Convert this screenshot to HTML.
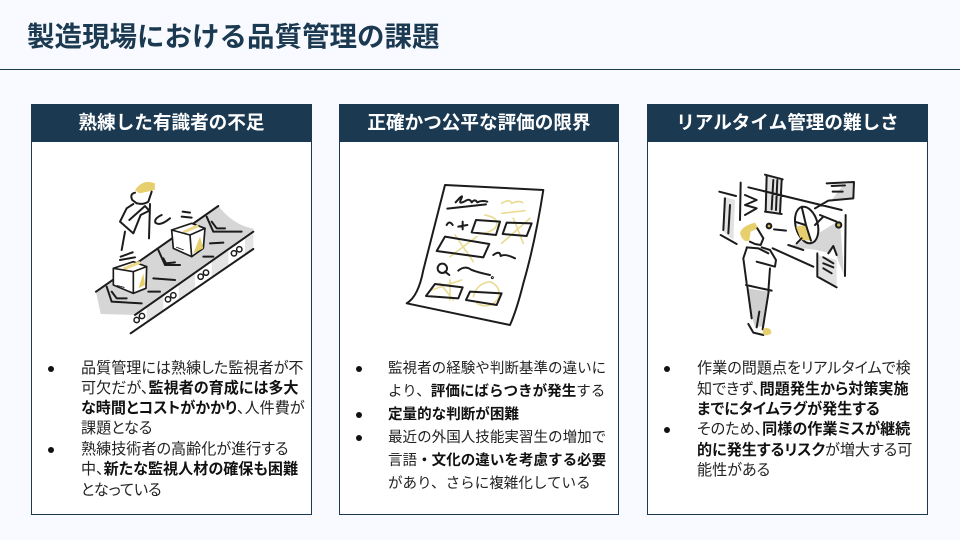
<!DOCTYPE html>
<html lang="ja"><head><meta charset="utf-8">
<style>
html,body{margin:0;padding:0;width:960px;height:540px;overflow:hidden;background:#f8faff}
body{position:relative;font-family:"Liberation Sans","Noto Sans CJK JP",sans-serif;color:#1a1a1a}
.t{position:absolute;left:27px;top:17px;font-size:27.5px;line-height:40px;font-weight:700;color:#1b3a52;white-space:nowrap}
.r{position:absolute;left:0;top:69px;width:960px;height:1px;background:#1b3a52}
.c{position:absolute;top:104px;height:409px;background:#fff;border:1px solid #1b3a52}
.h{position:absolute;left:-1px;right:-1px;top:-1px;height:38px;background:#1b3a52;color:#fff;font-weight:700;font-size:18.6px;line-height:38px;text-align:center;white-space:nowrap}
.l{position:absolute;font-size:14.55px;line-height:20px;white-space:nowrap;color:#222}
.l b{color:#111;font-weight:700}
.p{font-size:15.1px;font-feature-settings:"palt"}
.b{position:absolute;width:6px;height:6px;border-radius:50%;background:#111}
svg{position:absolute;left:0;top:0;filter:blur(.3px)}
</style></head><body>
<div class="t">製造現場における品質管理の課題</div><div class="r"></div>
<div class="c" style="left:31px;width:279px"><div class="h">熟練した有識者の不足</div></div>
<div class="c" style="left:339px;width:278px"><div class="h">正確かつ公平な評価の限界</div></div>
<div class="c" style="left:647px;width:279px"><div class="h">リアルタイム管理の難しさ</div></div>

<svg width="960" height="540" viewBox="0 0 960 540" fill="none" stroke-linecap="round" stroke-linejoin="round">
<g transform="translate(80 170) scale(.3333)" stroke="#1c1c1c" stroke-width="6">
<path d="M48 365 L415 108 Q460 165 520 176 L520 185 L165 435 L62 432Z" fill="#d6d6d6" stroke="none"/>
<path d="M200 412 L250 377 L250 425 L200 458Z M296 345 L345 311 L345 358 L296 392Z M395 277 L445 242 L445 290 L395 324Z M495 207 L520 190 L520 237 L495 254Z" fill="#e4e4e4" stroke="none"/>
<path d="M48 365 L415 108 M165 435 L520 185 M152 490 L520 237"/>
<path d="M80 350 L95 395 L185 400 M95 365 L110 385 L140 385 M220 325 L285 330 M205 365 L240 365 M235 240 L255 285 L300 285 M250 265 L258 280 L285 277 M380 140 L400 185 L485 185 M395 155 L410 175 L435 175 M390 220 L430 218 M370 260 L400 260"/>
<path d="M100 295 L160 275 L200 290 L198 355 L160 370 L100 345Z" fill="#fff" stroke-width="5"/>
<path d="M275 180 L335 160 L375 175 L370 235 L335 260 L280 235Z" fill="#fff" stroke-width="5"/>
<path d="M130 297 L180 277 M310 187 L355 167" stroke="#ecd98a" stroke-width="9" stroke-linecap="butt"/>
<path d="M190 310 L175 355 L195 345Z M360 200 L340 250 L370 235Z" fill="#e8cf6e" stroke="none"/>
<path d="M100 295 L160 305 L200 290 M160 305 L160 370 M275 180 L330 195 L375 175 M330 195 L335 260" stroke-width="5"/>
<path d="M112 347 L135 353 M290 232 L312 240" stroke-width="3" stroke-dasharray="3 3"/>
<path d="M165 60 Q190 25 225 40 L224 60 L178 70Z" fill="#e8cf6e" stroke="none"/>
<path d="M165 68 Q148 72 157 90 L170 100 M172 100 Q190 105 205 95 L215 65"/>
<path d="M160 102 L140 115 L120 155 L160 190 L182 135 L208 122 L195 108 L148 150 M135 185 L125 240 M210 102 L207 205 M245 135 Q222 145 226 158 Q240 170 270 145 M122 260 L158 247 M120 270 L165 262 M308 125 L330 128 M305 140 L335 143"/>
<g stroke-width="4.5"><circle cx="170" cy="450" r="8"/><circle cx="186" cy="438" r="8"/><circle cx="264" cy="388" r="8"/><circle cx="280" cy="376" r="8"/><circle cx="362" cy="320" r="8"/><circle cx="378" cy="308" r="8"/><circle cx="462" cy="250" r="8"/><circle cx="478" cy="238" r="8"/></g>
</g>

<g transform="translate(390 170) scale(.3333)">
<path d="M165 45 L460 60 Q435 220 400 340 Q380 420 360 465 L50 400 Q85 380 100 300 Z" fill="#fff" stroke="#1c1c1c" stroke-width="6"/>
<g stroke="#eadc96" stroke-width="5">
<path d="M335 100 Q360 85 365 100 Q385 90 398 98 M335 130 L405 122 M285 135 Q335 145 315 175 Q280 200 245 185 M370 145 L400 220 M420 145 L335 220 M195 195 L250 275 M260 200 L180 260 M180 330 L180 390 M125 360 L215 330 M150 340 L190 390 M250 380 Q260 340 300 335 Q335 350 325 385 Q300 420 260 400"/>
</g>
<g stroke="#1c1c1c" stroke-width="6">
<path d="M197 97 Q225 65 212 90 Q205 105 228 92 Q240 85 245 97 Q255 85 262 97 Q275 90 292 95 M172 116 L288 103 M170 165 Q178 150 188 165 M205 170 L232 165 M218 155 L218 178 M258 150 L330 155 L318 195 L245 187Z M350 158 L425 160 L410 198 L338 192Z M165 200 L298 222 L280 262 L140 243Z M310 255 Q330 240 332 258 Q345 250 375 265 M205 302 Q225 285 245 300 Q265 308 300 315 M108 378 L135 342 L218 352 L205 385 Z M240 365 L335 370 L320 405 L228 390Z"/>
<circle cx="157" cy="295" r="14"/><path d="M165 305 L178 315"/><circle cx="307" cy="323" r="1.5"/>
</g></g>

<g transform="translate(700 170) scale(.3333)" stroke="#1c1c1c" stroke-width="6">
<path d="M355 190 L420 150 L432 315 L410 260 L403 225 L392 250 L350 240 L270 230Z" fill="#d6d6d6" stroke="none"/>
<path d="M388 38 L462 36 L460 85 L400 90Z" fill="#fff" stroke="none"/>
<path d="M430 45 L460 38 L458 85 L395 90Z" fill="#d6d6d6" stroke="none"/>
<path d="M70 80 L105 90 L100 210 L70 185Z M200 18 L245 25 L240 130 L198 125Z M355 255 L410 270 L410 350 L355 320Z" fill="#e2e2e2" stroke="none"/>
<path d="M58 65 L108 78 M62 195 L110 222 M122 38 L120 150 M145 52 L425 120 M195 14 L248 28 M195 125 L245 132 M200 18 L197 125 M245 30 L240 130 M220 30 L215 118 M232 30 L228 120 M75 85 L70 180 M90 105 L85 190 M135 75 L170 90 L135 105 L170 115 L135 135 M380 40 L462 36 L460 85 L385 92 L345 115 M395 48 L435 46 M398 65 L428 65 M437 135 L435 318 M360 135 L410 155 M222 178 L258 182 M218 235 L340 290 M265 225 L310 240 M352 250 L352 320 L410 352 M370 262 L400 280 M370 280 L400 292 M370 295 L395 310 M410 255 L400 228 L385 250"/>
<ellipse cx="320" cy="165" rx="33" ry="56" fill="#fff" transform="rotate(-15 320 165)"/>
<path d="M288 170 L316 165 L333 212 L303 210Z" fill="#e8cf6e" stroke="none"/>
<path d="M305 110 L318 165 L333 212 M316 165 L285 155 M345 165 L370 140 M305 205 L290 220"/>
<circle cx="207" cy="168" r="7" fill="#c9b55a"/><circle cx="416" cy="165" r="8" fill="#c9b55a"/>
<path d="M120 190 Q125 168 165 158 L175 175 L152 185 L148 212 Q128 218 120 190Z" fill="#e8cf6e" stroke="none"/>
<path d="M172 175 L190 205 L182 225 L165 222 L150 215"/>
<path d="M185 232 L210 240 L228 270 L225 290 L170 275 M140 232 L175 235 L205 250 M130 265 L140 235 M130 265 L140 340 M210 295 L205 365 M138 345 L215 362"/>
<path d="M142 355 L205 365 L190 470 L165 470 L155 440Z" fill="#cfcfcf" stroke="none"/>
<path d="M142 350 L155 445 M206 365 L188 478 M178 425 L170 472 M145 462 L160 488 L190 495"/>
<path d="M190 475 Q215 470 214 490 Q200 500 188 492Z" fill="#e8cf6e" stroke="none"/>
</g>
</svg>

<i class="b" style="left:48px;top:366px"></i><i class="b" style="left:48px;top:447px"></i>
<div class="l p" style="left:81px;top:359px">品質管理には熟練した監視者が不</div>
<div class="l p" style="left:81px;top:379px">可欠だが、<b>監視者の育成には多大</b></div>
<div class="l p" style="left:81px;top:399px"><b>な時間とコストがかかり</b>、人件費が</div>
<div class="l p" style="left:81px;top:419px">課題となる</div>
<div class="l p" style="left:81px;top:440px">熟練技術者の高齢化が進行する</div>
<div class="l p" style="left:81px;top:460px">中、<b>新たな監視人材の確保も困難</b></div>
<div class="l p" style="left:81px;top:481px">となっている</div>

<i class="b" style="left:356px;top:366px"></i><i class="b" style="left:356px;top:412px"></i><i class="b" style="left:356px;top:435px"></i>
<div class="l" style="left:388px;top:359px">監視者の経験や判断基準の違いに</div>
<div class="l" style="left:388px;top:382px">より、<b>評価にばらつきが発生</b>する</div>
<div class="l" style="left:388px;top:405px"><b>定量的な判断が困難</b></div>
<div class="l" style="left:388px;top:428px">最近の外国人技能実習生の増加で</div>
<div class="l" style="left:388px;top:451px">言語<b>・文化の違いを考慮する必要</b></div>
<div class="l" style="left:388px;top:474px">があり、さらに複雑化している</div>

<i class="b" style="left:664px;top:366px"></i><i class="b" style="left:664px;top:427px"></i>
<div class="l p" style="left:697px;top:359px">作業の問題点をリアルタイムで検</div>
<div class="l p" style="left:697px;top:380px">知できず、<b>問題発生から対策実施</b></div>
<div class="l p" style="left:697px;top:400px"><b>までにタイムラグが発生する</b></div>
<div class="l p" style="left:697px;top:420px">そのため、<b>同様の作業ミスが継続</b></div>
<div class="l p" style="left:697px;top:441px"><b>的に発生するリスク</b>が増大する可</div>
<div class="l p" style="left:697px;top:461px">能性がある</div>
</body></html>
